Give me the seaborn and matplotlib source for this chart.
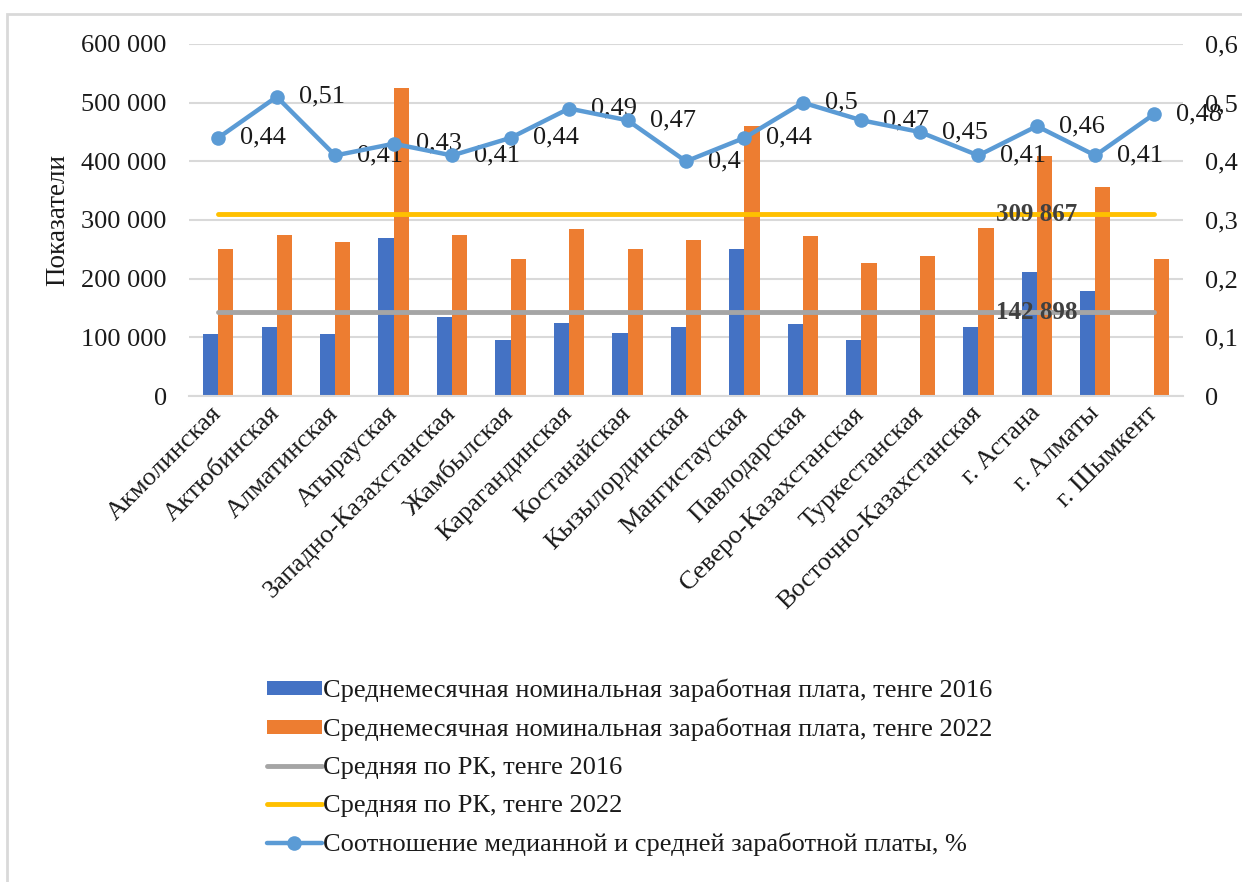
import numpy as np
import pandas as pd
import matplotlib
matplotlib.use("Agg")
import matplotlib.pyplot as plt
import seaborn as sns
from matplotlib.patches import Patch, Rectangle
from matplotlib.lines import Line2D
from matplotlib.ticker import FuncFormatter, MultipleLocator

# --- данные ---
regions = [
    "Акмолинская", "Актюбинская", "Алматинская", "Атырауская",
    "Западно-Казахстанская", "Жамбылская", "Карагандинская", "Костанайская",
    "Кызылординская", "Мангистауская", "Павлодарская", "Северо-Казахстанская",
    "Туркестанская", "Восточно-Казахстанская", "г. Астана", "г. Алматы",
    "г. Шымкент",
]
wage_2016 = [105000, 117600, 105000, 268700, 135200, 96000, 124400, 106800,
             117600, 251000, 122200, 96000, np.nan, 117600, 211900, 179000,
             np.nan]
wage_2022 = [251000, 275000, 262000, 524400, 275000, 233500, 284100, 251000,
             266500, 460800, 272700, 226700, 238100, 285800, 408500, 355700,
             233500]
ratio = [0.44, 0.51, 0.41, 0.43, 0.41, 0.44, 0.49, 0.47, 0.40, 0.44, 0.50,
         0.47, 0.45, 0.41, 0.46, 0.41, 0.48]
mean_2016 = 142898
mean_2022 = 309867
mean_label_idx = 14

series_labels = [
    "Среднемесячная номинальная заработная плата, тенге 2016",
    "Среднемесячная номинальная заработная плата, тенге 2022",
    "Средняя по РК, тенге 2016",
    "Средняя по РК, тенге 2022",
    "Соотношение медианной и средней заработной платы, %",
]

C_BLUE = "#4472C4"
C_ORANGE = "#ED7D31"
C_GRAY = "#A5A5A5"
C_YELLOW = "#FFC000"
C_LINE = "#5B9BD5"
C_GRID = "#D9D9D9"
C_TEXT = "#1a1a1a"
FS = 19

sns.set_theme(style="white")
plt.rcParams["font.family"] = ["Liberation Serif", "DejaVu Serif"]
plt.rcParams["text.color"] = C_TEXT

df = pd.DataFrame({
    "region": regions * 2,
    "series": [series_labels[0]] * len(regions) + [series_labels[1]] * len(regions),
    "value": wage_2016 + wage_2022,
})

fig = plt.figure(figsize=(12.42, 8.82), dpi=100)
ax = fig.add_axes([189 / 1242, 1 - 396 / 882, (1183 - 189) / 1242, (396 - 44) / 882])

sns.barplot(data=df, x="region", y="value", hue="series",
            palette=[C_BLUE, C_ORANGE], width=0.52, gap=0, errorbar=None,
            saturation=1, legend=False, ax=ax, zorder=2, linewidth=0)

n = len(regions)
ax.plot([0, n - 1], [mean_2016, mean_2016], color=C_GRAY, lw=3.5, zorder=3,
        solid_capstyle="round")
ax.plot([0, n - 1], [mean_2022, mean_2022], color=C_YELLOW, lw=3.5, zorder=3,
        solid_capstyle="round")
for val in (mean_2016, mean_2022):
    ax.text(mean_label_idx, val, f"{val:,}".replace(",", " "), ha="center",
            va="center", fontsize=18, fontweight="bold", color="#404040", zorder=4)

ax.set_xlim(-0.5, n - 0.5)
ax.set_ylim(0, 600000)
ax.yaxis.set_major_locator(MultipleLocator(100000))
ax.yaxis.set_major_formatter(FuncFormatter(lambda v, p: f"{int(v):,}".replace(",", " ")))
ax.grid(axis="y", color=C_GRID, lw=1.5, zorder=0)
ax.set_axisbelow(True)
for s in ["top", "right", "left"]:
    ax.spines[s].set_visible(False)
ax.spines["bottom"].set_color(C_GRID)
ax.spines["bottom"].set_linewidth(1.5)
ax.tick_params(axis="y", length=0, pad=16, labelsize=FS, labelcolor=C_TEXT)
ax.tick_params(axis="x", length=0, pad=10, labelsize=FS, labelcolor=C_TEXT)
ax.set_xlabel("")
ax.set_ylabel("Показатели", fontsize=FS + 0.5, color=C_TEXT, labelpad=8)
plt.setp(ax.get_xticklabels(), rotation=45, ha="right", va="center",
         rotation_mode="anchor")

ax2 = ax.twinx()
sns.lineplot(x=np.arange(n), y=ratio, ax=ax2, color=C_LINE, lw=3.2,
             marker="o", markersize=10.5, markeredgewidth=0, zorder=5)
for i, r in enumerate(ratio):
    ax2.annotate(f"{r:g}".replace(".", ","), (i, r), xytext=(22, 0),
                 textcoords="offset pixels", ha="left", va="center",
                 fontsize=FS, color=C_TEXT)
ax2.set_ylim(0, 0.6)
ax2.yaxis.set_major_locator(MultipleLocator(0.1))
ax2.yaxis.set_major_formatter(FuncFormatter(
    lambda v, p: "0" if abs(v) < 1e-9 else f"{v:.1f}".replace(".", ",")))
ax2.tick_params(axis="y", length=0, pad=16, labelsize=FS, labelcolor=C_TEXT)
for s in ax2.spines.values():
    s.set_visible(False)
ax2.set_ylabel("")

handles = [
    Patch(facecolor=C_BLUE, edgecolor="none"),
    Patch(facecolor=C_ORANGE, edgecolor="none"),
    Line2D([], [], color=C_GRAY, lw=3.5, solid_capstyle="round"),
    Line2D([], [], color=C_YELLOW, lw=3.5, solid_capstyle="round"),
    Line2D([], [], color=C_LINE, lw=3.2, marker="o", markersize=10.5,
           markeredgewidth=0, solid_capstyle="round"),
]
fig.legend(handles, series_labels, loc="upper left",
           bbox_to_anchor=(256 / 1242, 1 - 668 / 882), frameon=False,
           fontsize=FS, handlelength=2.1, handleheight=0.45,
           handletextpad=0.05, labelspacing=0.6, borderaxespad=0)

# рамка диаграммы
fig.patches.append(Rectangle((7 / 1242, -0.1), 1.2, 1.1 - 14 / 882,
                             transform=fig.transFigure, fill=False,
                             edgecolor=C_GRID, lw=2))

fig.savefig("out.png", dpi=100)
